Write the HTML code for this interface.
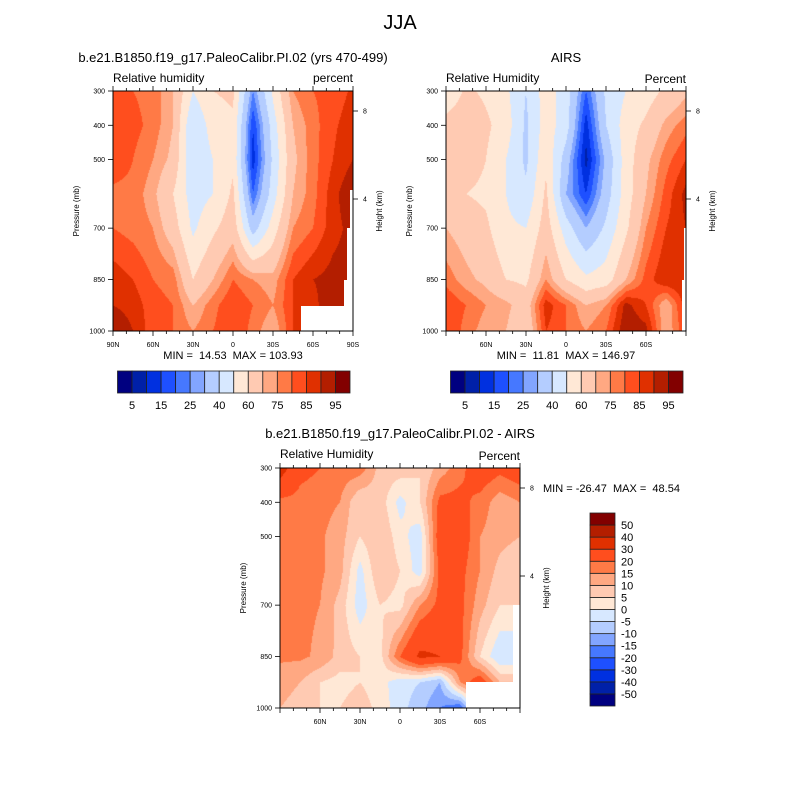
<!DOCTYPE html>
<html><head><meta charset="utf-8">
<style>
body{margin:0;background:#fff;width:800px;height:800px;overflow:hidden;position:relative;font-family:"Liberation Sans",sans-serif}
canvas{position:absolute}
svg{position:absolute;left:0;top:0}
text{white-space:pre}
</style></head>
<body>
<canvas id="c1" width="240" height="240" style="left:113px;top:91px"></canvas>
<canvas id="c2" width="240" height="240" style="left:446px;top:91px"></canvas>
<canvas id="c3" width="240" height="240" style="left:280px;top:468px"></canvas>
<svg id="s" width="800" height="800"></svg>
<script>
const lats=["90N","75N","60N","45N","30N","15N","0","15S","30S","45S","60S","75S","90S"];
const pressures=[300,400,500,600,700,850,925,1000];
const modelRH=[
[80,80,78,70,50,60,62,25,52,75,80,82,86],
[85,82,78,70,40,55,58,15,45,70,78,84,88],
[85,80,75,68,40,50,58,12,42,68,78,85,90],
[78,78,72,60,45,50,62,20,45,70,78,88,95],
[80,78,75,65,48,58,66,35,55,75,80,88,92],
[88,85,80,78,60,70,80,75,72,85,90,92,92],
[90,88,82,80,70,78,85,80,75,85,88,95,95],
[95,90,82,80,75,80,85,78,70,85,85,90,90]];
const airsRH=[
[50,62,58,52,40,55,45,20,42,50,55,62,68],
[65,68,62,55,38,55,45,12,40,55,62,72,78],
[65,65,60,50,38,58,35,8,32,55,68,78,85],
[62,60,58,50,42,62,30,15,35,55,70,82,92],
[70,66,62,52,50,65,45,30,42,58,75,85,90],
[78,72,68,60,58,75,60,52,55,70,82,90,90],
[85,80,75,72,65,88,80,70,75,92,85,70,88],
[85,78,72,70,62,85,80,75,80,95,92,70,85]];
const diffRH=[
[35,22,20,18,18,8,8,5,12,18,25,22,25],
[18,18,17,15,5,8,-2,5,22,22,18,12,15],
[17,17,16,12,5,10,2,-3,25,25,15,12,10],
[20,17,16,12,-2,10,5,-3,22,22,15,8,5],
[17,16,15,8,-3,5,3,15,22,22,12,5,5],
[16,16,14,8,5,3,20,32,30,22,5,-5,-5],
[12,10,5,3,5,2,-3,-5,-10,15,25,10,10],
[10,8,5,5,8,3,-3,-8,-15,-20,10,10,10]];
const rhLevels=[5,10,15,20,25,30,40,50,60,70,75,80,85,90,95];
const rhLabels=["5","15","25","40","60","75","85","95"];
const diffLevels=[-50,-40,-30,-20,-15,-10,-5,0,5,10,15,20,30,40,50];
const pTicks=[300,400,500,700,850,1000];
const colors=["#000080","#0020a8","#0030e0","#1e50ff","#4678ff","#82a5ff","#b4cdff","#d7e8ff","#ffe8d6","#ffcab2","#ffa882","#ff7a46","#ff4e1e","#e03000","#b31e00","#820000"];

function hex(c){return [parseInt(c.slice(1,3),16),parseInt(c.slice(3,5),16),parseInt(c.slice(5,7),16)];}
const rgb=colors.map(hex);
function sample(grid,fx,p){
  let r=0;while(r<pressures.length-2&&p>pressures[r+1])r++;
  const t=Math.min(1,Math.max(0,(p-pressures[r])/(pressures[r+1]-pressures[r])));
  const c=Math.min(lats.length-2,Math.floor(fx));const u=fx-c;
  const a=grid[r][c]*(1-u)+grid[r][c+1]*u;
  const b=grid[r+1][c]*(1-u)+grid[r+1][c+1]*u;
  return a*(1-t)+b*t;
}
function fill(id,grid,levels){
  const cv=document.getElementById(id),ctx=cv.getContext('2d');
  const im=ctx.createImageData(240,240);
  for(let y=0;y<240;y++)for(let x=0;x<240;x++){
    const v=sample(grid,(x+0.5)/240*(lats.length-1),300+(y+0.5)/240*700);
    let k=0;while(k<levels.length&&v>=levels[k])k++;
    const c=rgb[k],i=(y*240+x)*4;
    im.data[i]=c[0];im.data[i+1]=c[1];im.data[i+2]=c[2];im.data[i+3]=255;
  }
  ctx.putImageData(im,0,0);
}
fill('c1',modelRH,rhLevels);fill('c2',airsRH,rhLevels);fill('c3',diffRH,diffLevels);

const S=document.getElementById('s');const NS='http://www.w3.org/2000/svg';
function el(tag,at,txt){const e=document.createElementNS(NS,tag);for(const k in at)e.setAttribute(k,at[k]);if(txt!==undefined)e.textContent=txt;S.appendChild(e);return e;}
function txt(x,y,s,size,anchor,name,rot){
  const e=el('text',{x:x,y:y,'font-size':size,'text-anchor':anchor||'start',fill:'#000'},s);
  if(rot)e.setAttribute('transform','rotate(-90 '+x+' '+y+')');
  
  
  return e;
}
const yP=(L,T,p)=>T+(p-300)/700*240;
function axes(L,T,pre,showPoles,masks){
  masks.forEach(m=>{const r=el('polygon',{points:m,fill:'#fff'});
    
    });
  const f=el('rect',{x:L,y:T,width:240,height:240,fill:'none',stroke:'#000','stroke-width':1});
  
  
  for(let d=0;d<=180;d+=10){
    const x=L+d/180*240,maj=d%30==0,len=maj?5:3;
    el('line',{x1:x,y1:T,x2:x,y2:T-len,stroke:'#000','stroke-width':0.8});
    el('line',{x1:x,y1:T+240,x2:x,y2:T+240+len,stroke:'#000','stroke-width':0.8});
    if(maj){const lab=d==0?'90N':d==180?'90S':d<90?(90-d)+'N':d==90?'0':(d-90)+'S';
      if(showPoles||(d!=0&&d!=180))txt(x,T+256,lab,7,'middle',pre+'-x-tick-label');}
  }
  pTicks.forEach(p=>{const y=yP(L,T,p);
    el('line',{x1:L,y1:y,x2:L-5,y2:y,stroke:'#000','stroke-width':0.8});
    txt(L-8,y+2.5,String(p),7,'end',pre+'-y-tick-label');});
  [[8,20],[4,108]].forEach(h=>{const y=T+h[1];
    el('line',{x1:L+240,y1:y,x2:L+245,y2:y,stroke:'#000','stroke-width':0.8});
    txt(L+250,y+2.5,String(h[0]),7,'start',pre+'-height-tick-label');});
  txt(L-34,T+120,'Pressure (mb)',8,'middle',pre+'-y-axis-title',true);
  txt(L+269,T+120,'Height (km)',8,'middle',pre+'-height-axis-title',true);
}
axes(113,91,'model',true,["350,190 353,190 353,331 350,331","347,228 353,228 353,331 347,331","344,280 353,280 353,331 344,331","301,306 353,306 353,331 301,331"]);
axes(446,91,'airs',false,["684,228 686,228 686,331 684,331","682,280 686,280 686,331 682,331"]);
axes(280,468,'diff',false,["513,605 520,605 520,708 513,708","466,682 520,682 520,708 466,708"]);

function hbar(L,T,pre){
  const w=232.5/16;
  colors.forEach((c,i)=>{const r=el('rect',{x:L+i*w,y:T,width:w,height:22,fill:c,stroke:'#222','stroke-width':0.8});
    
    });
  rhLabels.forEach((s,j)=>txt(L+(2*j+1)*w,T+38,s,11,'middle',pre+'-colorbar-label'));
}
hbar(117.5,371,'model');hbar(450.5,371,'airs');
const bh=193/16;
colors.forEach((c,i)=>{const r=el('rect',{x:590,y:513+(15-i)*bh,width:25,height:bh,fill:c,stroke:'#222','stroke-width':0.8});
  
  });
diffLevels.forEach((v,i)=>txt(621,513+(15-i)*bh+4,String(v),11,'start','diff-colorbar-label'));

txt(400,29,'JJA',20,'middle','main-title');
txt(233,62,'b.e21.B1850.f19_g17.PaleoCalibr.PI.02 (yrs 470-499)',13,'middle','model-title');
txt(566,62,'AIRS',13,'middle','airs-title');
txt(113,82,'Relative humidity',12,'start','model-variable-label');
txt(353,82,'percent',12,'end','model-units-label');
txt(446,82,'Relative Humidity',12,'start','airs-variable-label');
txt(686,83,'Percent',12,'end','airs-units-label');
txt(233,359,'MIN =  14.53  MAX = 103.93',11,'middle','model-min-max');
txt(566,359,'MIN =  11.81  MAX = 146.97',11,'middle','airs-min-max');
txt(400,438,'b.e21.B1850.f19_g17.PaleoCalibr.PI.02 - AIRS',13,'middle','diff-title');
txt(280,458,'Relative Humidity',12,'start','diff-variable-label');
txt(520,460,'Percent',12,'end','diff-units-label');
txt(543,492,'MIN = -26.47  MAX =  48.54',11,'start','diff-min-max');
</script>
</body></html>
